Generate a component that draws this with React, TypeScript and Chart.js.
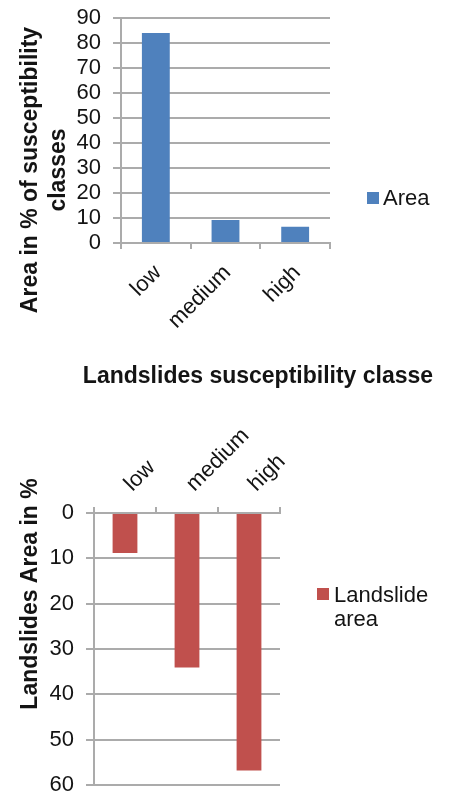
import React, { useEffect, useRef } from "react";
import { Chart, registerables } from "chart.js";

Chart.register(...registerables);

// ---- data ----
const categories = ["low", "medium", "high"];
const areaValues = [84, 9.2, 6.5];
const landslideValues = [8.8, 34.1, 56.8];
const topTicksMax = 90;
const bottomTicksMax = 60;
const tickStep = 10;

const topSeriesLabel = "Area";
const bottomSeriesLabel = ["Landslide", "area"];
const topYTitle = ["Area in % of susceptibility", "classes"];
const topXTitle = "Landslides susceptibility classe";
const bottomYTitle = "Landslides Area in %";

const FONT = "'Liberation Sans', Arial, Helvetica, sans-serif";
const BLUE = "#4f81bd";
const RED = "#c0504d";
const GRID = "#ababab";
const TEXT = "#141414";

function rotatedText(ctx: CanvasRenderingContext2D, text: string, x: number, cy: number) {
  ctx.save();
  ctx.translate(x, cy);
  ctx.rotate(-Math.PI / 2);
  ctx.textAlign = "center";
  ctx.textBaseline = "alphabetic";
  ctx.fillText(text, 0, 0);
  ctx.restore();
}

const topTextPlugin = {
  id: "topText",
  afterDraw(chart: any) {
    const ctx = chart.ctx as CanvasRenderingContext2D;
    ctx.save();
    ctx.fillStyle = TEXT;
    ctx.font = `bold 23px ${FONT}`;
    rotatedText(ctx, topYTitle[0], 37, 170);
    rotatedText(ctx, topYTitle[1], 65, 170);
    ctx.textAlign = "center";
    ctx.textBaseline = "alphabetic";
    ctx.fillText(topXTitle, 258, 383);
    // legend
    ctx.fillStyle = BLUE;
    ctx.fillRect(367, 192, 12, 12);
    ctx.fillStyle = TEXT;
    ctx.font = `22px ${FONT}`;
    ctx.textAlign = "left";
    ctx.fillText(topSeriesLabel, 383, 205);
    ctx.restore();
  },
};

const bottomTextPlugin = {
  id: "bottomText",
  afterDraw(chart: any) {
    const ctx = chart.ctx as CanvasRenderingContext2D;
    ctx.save();
    ctx.fillStyle = TEXT;
    ctx.font = `bold 23px ${FONT}`;
    rotatedText(ctx, bottomYTitle, 37, 194);
    ctx.fillStyle = RED;
    ctx.fillRect(317, 188, 12, 12);
    ctx.fillStyle = TEXT;
    ctx.font = `22px ${FONT}`;
    ctx.textAlign = "left";
    ctx.textBaseline = "alphabetic";
    ctx.fillText(bottomSeriesLabel[0], 334, 202);
    ctx.fillText(bottomSeriesLabel[1], 334, 226);
    ctx.restore();
  },
};

export default function App() {
  const topRef = useRef<HTMLCanvasElement>(null);
  const bottomRef = useRef<HTMLCanvasElement>(null);

  useEffect(() => {
    Chart.defaults.font.family = FONT;
    const tickFont = { size: 22, family: FONT };

    const top = new Chart(topRef.current as HTMLCanvasElement, {
      type: "bar",
      data: {
        labels: categories,
        datasets: [
          {
            label: topSeriesLabel,
            data: areaValues,
            backgroundColor: BLUE,
            borderWidth: 0,
            categoryPercentage: 1,
            barPercentage: 0.4,
          },
        ],
      },
      options: {
        responsive: false,
        animation: false,
        devicePixelRatio: 1,
        layout: { padding: { left: 0, top: 18, right: 119, bottom: 57 } },
        plugins: { legend: { display: false }, tooltip: { enabled: false } },
        scales: {
          x: {
            grid: { offset: true, drawOnChartArea: false, drawTicks: true, tickLength: 6, color: GRID, lineWidth: 2 },
            border: { display: true, color: GRID, width: 2 },
            ticks: { minRotation: 45, maxRotation: 45, autoSkip: false, padding: 11, labelOffset: 2, font: tickFont, color: TEXT },
            afterFit: (s: any) => {
              s.height = 100;
              s.paddingLeft = 0;
              s.paddingRight = 0;
            },
          },
          y: {
            min: 0,
            max: topTicksMax,
            ticks: { stepSize: tickStep, autoSkip: false, padding: 12, font: tickFont, color: TEXT },
            grid: { color: GRID, lineWidth: 2, tickLength: 8 },
            border: { color: GRID, width: 2 },
            afterFit: (s: any) => {
              s.width = 121;
              s.paddingTop = 0;
              s.paddingBottom = 0;
            },
          },
        },
      } as any,
      plugins: [topTextPlugin],
    });

    const bottom = new Chart(bottomRef.current as HTMLCanvasElement, {
      type: "bar",
      data: {
        labels: categories,
        datasets: [
          {
            label: bottomSeriesLabel.join(" "),
            data: landslideValues,
            backgroundColor: RED,
            borderWidth: 0,
            categoryPercentage: 1,
            barPercentage: 0.4,
          },
        ],
      },
      options: {
        responsive: false,
        animation: false,
        devicePixelRatio: 1,
        layout: { padding: { left: 0, top: 0, right: 169, bottom: 10 } },
        plugins: { legend: { display: false }, tooltip: { enabled: false } },
        scales: {
          x: {
            position: "top",
            grid: { offset: true, drawOnChartArea: false, drawTicks: true, tickLength: 6, color: GRID, lineWidth: 2 },
            border: { display: true, color: GRID, width: 2 },
            ticks: { minRotation: 45, maxRotation: 45, autoSkip: false, padding: 10, labelOffset: 22, font: tickFont, color: TEXT },
            afterFit: (s: any) => {
              s.height = 113;
              s.paddingLeft = 0;
              s.paddingRight = 0;
            },
          },
          y: {
            reverse: true,
            min: 0,
            max: bottomTicksMax,
            ticks: { stepSize: tickStep, autoSkip: false, padding: 12, font: tickFont, color: TEXT },
            grid: { color: GRID, lineWidth: 2, tickLength: 8 },
            border: { color: GRID, width: 2 },
            afterFit: (s: any) => {
              s.width = 94;
              s.paddingTop = 0;
              s.paddingBottom = 0;
            },
          },
        },
      } as any,
      plugins: [bottomTextPlugin],
    });

    return () => {
      top.destroy();
      bottom.destroy();
    };
  }, []);

  return (
    <div style={{ position: "absolute", left: 0, top: 0, width: 449, height: 795, background: "#fff" }}>
      <canvas ref={topRef} width={449} height={400} style={{ display: "block", width: 449, height: 400 }} />
      <canvas ref={bottomRef} width={449} height={395} style={{ display: "block", width: 449, height: 395 }} />
    </div>
  );
}
